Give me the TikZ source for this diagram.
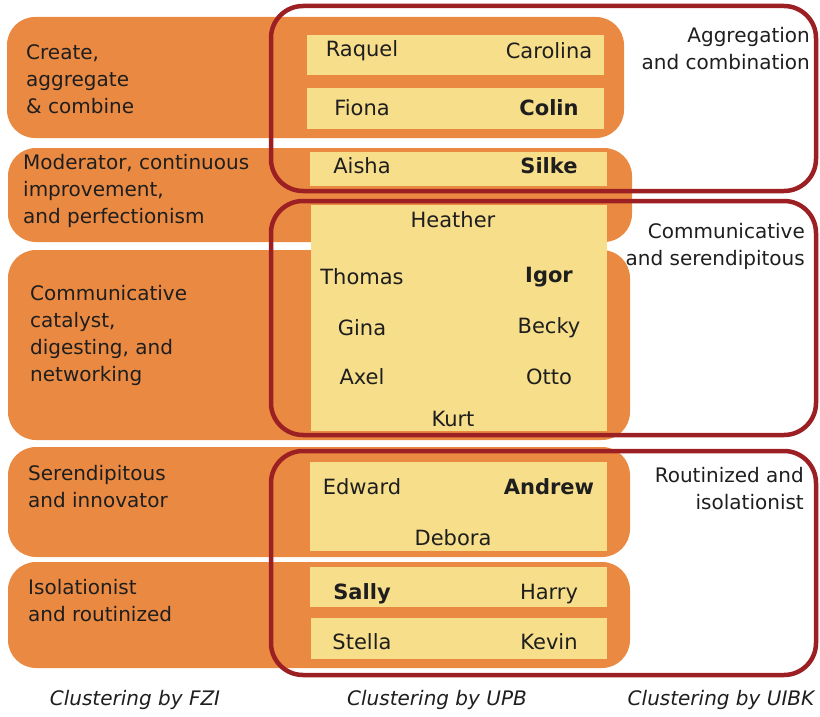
\documentclass[tikz,border=0pt]{standalone}
\usepackage{fontspec}
\setmainfont{DejaVu Sans}
\definecolor{orng}{HTML}{EA8A42}
\definecolor{ylw}{HTML}{F7DE8A}
\definecolor{rd}{HTML}{9C1F23}
\definecolor{txt}{HTML}{1E1E1E}
\begin{document}
\begin{tikzpicture}[x=1pt,y=-1pt,
  band/.style={fill=orng, draw=none, rounded corners=28pt},
  ybox/.style={fill=ylw, draw=none},
  redbox/.style={draw=rd, line width=4.5pt, rounded corners=32pt},
  lbl/.style={align=left, anchor=west, inner sep=0pt, text=txt, font=\fontsize{20}{27}\selectfont},
  rlbl/.style={align=right, anchor=east, inner sep=0pt, text=txt, font=\fontsize{20}{27}\selectfont},
  nm/.style={inner sep=0pt, text=txt, font=\fontsize{21}{25}\selectfont},
  bnm/.style={inner sep=0pt, text=txt, font=\fontsize{21}{25}\selectfont\bfseries},
  captxt/.style={inner sep=0pt, text=txt, font=\fontsize{20}{24}\selectfont\itshape}]
\useasboundingbox (0,0) rectangle (820,717);
% FZI bands
\fill[band] (7,17) rectangle (624,138);
\fill[band] (8,148) rectangle (632,242);
\fill[band] (8,250) rectangle (630,440);
\fill[band] (8,447) rectangle (630,557);
\fill[band] (8,562) rectangle (630,668);
% UPB boxes
\fill[ybox] (307,35) rectangle (604,75);
\fill[ybox] (307,88) rectangle (604,129);
\fill[ybox] (310,152) rectangle (607,186);
\fill[ybox] (311,205) rectangle (607,431);
\fill[ybox] (310,462) rectangle (607,551);
\fill[ybox] (310,567) rectangle (607,607);
\fill[ybox] (311,618) rectangle (607,659);
% UIBK boxes
\draw[redbox] (271,6) rectangle (816,191);
\draw[redbox] (271,201) rectangle (816,435);
\draw[redbox] (271,451) rectangle (816,675);
% FZI labels
\node[lbl] (f1) at (26,79) {Create,\\aggregate\\\& combine};
\node[lbl] (f2) at (23,191) {Moderator, continuous\\improvement,\\and perfectionism};
\node[lbl] (f3) at (30,335) {Communicative\\catalyst,\\digesting, and\\networking};
\node[lbl] (f4) at (28,487) {Serendipitous\\and innovator};
\node[lbl] (f5) at (28,601) {Isolationist\\and routinized};
% UIBK labels
\node[rlbl] (u1) at (810,49) {Aggregation\\and combination};
\node[rlbl] (u2) at (805,246) {Communicative\\and serendipitous};
\node[rlbl] (u3) at (804,489) {Routinized and\\isolationist};
% names
\node[nm] (raquel) at (362,51) {Raquel};
\node[nm] (carolina) at (549,51) {Carolina};
\node[nm] (fiona) at (362,108) {Fiona};
\node[bnm] (colin) at (549,108) {Colin};
\node[nm] (aisha) at (362,166) {Aisha};
\node[bnm] (silke) at (549,166) {Silke};
\node[nm] (heather) at (453,220) {Heather};
\node[nm] (thomas) at (362,277) {Thomas};
\node[bnm] (igor) at (549,277) {Igor};
\node[nm] (gina) at (362,328) {Gina};
\node[nm] (becky) at (549,328) {Becky};
\node[nm] (axel) at (362,377) {Axel};
\node[nm] (otto) at (549,377) {Otto};
\node[nm] (kurt) at (453,419) {Kurt};
\node[nm] (edward) at (362,487) {Edward};
\node[bnm] (andrew) at (549,487) {Andrew};
\node[nm] (debora) at (453,538) {Debora};
\node[bnm] (sally) at (362,594) {Sally};
\node[nm] (harry) at (549,594) {Harry};
\node[nm] (stella) at (362,642) {Stella};
\node[nm] (kevin) at (549,642) {Kevin};
% captions
\node[captxt] (c1) at (135,700) {Clustering by FZI};
\node[captxt] (c2) at (437,700) {Clustering by UPB};
\node[captxt] (c3) at (721,700) {Clustering by UIBK};
\end{tikzpicture}
\end{document}
